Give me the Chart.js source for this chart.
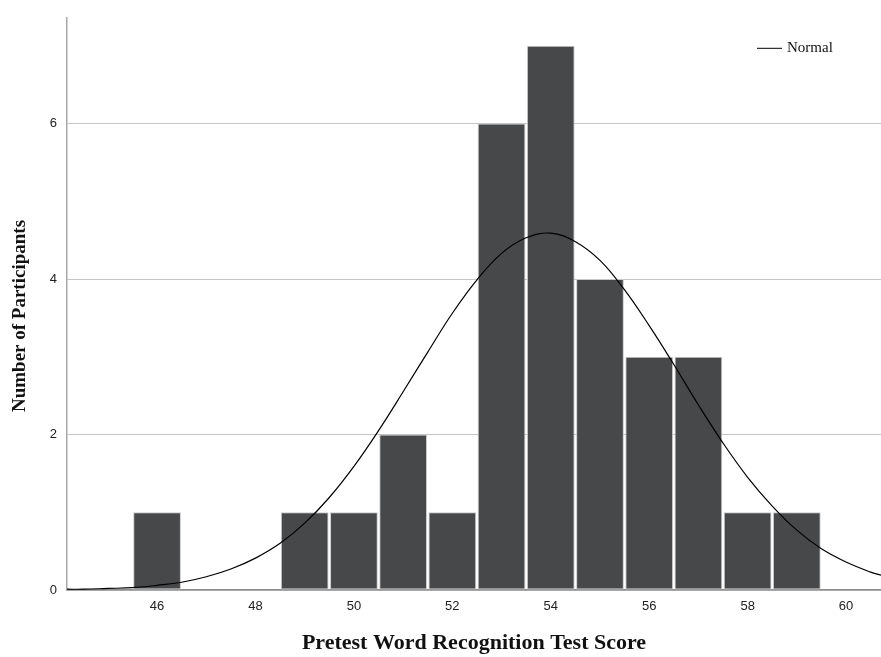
<!DOCTYPE html>
<html>
<head>
<meta charset="utf-8">
<script src="https://cdn.jsdelivr.net/npm/chart.js@4/dist/chart.umd.min.js"></script>
<style>
  html, body { margin: 0; padding: 0; background: #fff; }
  #wrap { width: 881px; height: 657px; }
</style>
</head>
<body>
<div id="wrap"><canvas id="histo" width="881" height="657"></canvas></div>
<script>
// scores and counts (histogram)
var scores = [46, 47, 48, 49, 50, 51, 52, 53, 54, 55, 56, 57, 58, 59];
var counts = [1, 0, 0, 1, 1, 2, 1, 6, 7, 4, 3, 3, 1, 1];

// normal curve
var curveX = [44.17, 44.5, 45, 45.5, 46, 46.5, 47, 47.5, 48, 48.5, 49, 49.5, 50, 50.5, 51, 51.5, 52, 52.5,
              53, 53.5, 54, 54.5, 55, 55.5, 56, 56.5, 57, 57.5, 58, 58.5, 59, 59.5, 60, 60.5, 60.71];
var curveY = [0.01, 0.01, 0.02, 0.03, 0.06, 0.10, 0.17, 0.27, 0.41, 0.60, 0.86, 1.19, 1.59, 2.05, 2.55, 3.06, 3.56, 3.99,
              4.33, 4.53, 4.59, 4.48, 4.24, 3.86, 3.40, 2.90, 2.38, 1.89, 1.45, 1.08, 0.77, 0.53, 0.36, 0.23, 0.19];

var xTicks = [46, 48, 50, 52, 54, 56, 58, 60];
var yTicks = [0, 2, 4, 6];

var barData = scores.map(function(s, i) { return { x: s, y: counts[i] }; });
var lineData = curveX.map(function(x, i) { return { x: x, y: curveY[i] }; });

// legend + y title drawn by hand (SPSS style placement)
var extrasPlugin = {
  id: 'extras',
  afterDraw: function(chart) {
    var ctx = chart.ctx;
    var a = chart.chartArea;
    ctx.save();
    ctx.strokeStyle = '#000';
    ctx.lineWidth = 1;
    ctx.beginPath();
    ctx.moveTo(a.right - 124, a.top + 30.5);
    ctx.lineTo(a.right - 99, a.top + 30.5);
    ctx.stroke();
    ctx.fillStyle = '#111';
    ctx.font = '15px "Liberation Serif", "Times New Roman", serif';
    ctx.textBaseline = 'middle';
    ctx.fillText('Normal', a.right - 94, a.top + 30);

    // y axis title
    ctx.translate(20, 316);
    ctx.rotate(-Math.PI / 2);
    ctx.textAlign = 'center';
    ctx.font = 'bold 19px "Liberation Serif", "Times New Roman", serif';
    ctx.fillText('Number of Participants', 0, 0);
    ctx.restore();
  }
};

new Chart(document.getElementById('histo').getContext('2d'), {
  data: {
    datasets: [{
      type: 'line',
      label: 'Normal',
      data: lineData,
      borderColor: '#000',
      borderWidth: 1.2,
      pointRadius: 0,
      tension: 0.4,
      fill: false,
      order: 0
    }, {
      type: 'bar',
      label: 'Count',
      data: barData,
      backgroundColor: '#47484a',
      borderColor: '#c9c9c9',
      borderWidth: 1,
      borderSkipped: false,
      barPercentage: 0.97,
      categoryPercentage: 1,
      order: 1
    }]
  },
  options: {
    responsive: false,
    animation: false,
    devicePixelRatio: 1,
    layout: { padding: { top: 16, right: 0, left: 0, bottom: 0 } },
    plugins: {
      legend: { display: false },
      tooltip: { enabled: false }
    },
    scales: {
      x: {
        type: 'linear',
        offset: false,
        min: 44.17,
        max: 60.71,
        afterBuildTicks: function(scale) {
          scale.ticks = xTicks.map(function(v) { return { value: v }; });
        },
        afterFit: function(scale) { scale.height = 67; },
        grid: { display: false, drawTicks: false },
        border: { display: true, color: '#8c8c8c', width: 1.5 },
        ticks: {
          padding: 9,
          color: '#222',
          font: { family: '"Liberation Sans", Arial, sans-serif', size: 13 }
        },
        title: {
          display: true,
          text: 'Pretest Word Recognition Test Score',
          color: '#111',
          padding: { top: 10, bottom: 0 },
          font: { family: '"Liberation Serif", "Times New Roman", serif', size: 22, weight: 'bold' }
        }
      },
      y: {
        type: 'linear',
        min: 0,
        max: 7.36,
        afterBuildTicks: function(scale) {
          scale.ticks = yTicks.map(function(v) { return { value: v }; });
        },
        afterFit: function(scale) { scale.width = 67; },
        grid: { color: '#c4c4c4', lineWidth: 1, drawTicks: false },
        border: { display: true, color: '#a8a8a8', width: 1.5 },
        ticks: {
          padding: 10,
          color: '#222',
          font: { family: '"Liberation Sans", Arial, sans-serif', size: 13 }
        },
        title: { display: false }
      }
    }
  },
  plugins: [extrasPlugin]
});
</script>
</body>
</html>
